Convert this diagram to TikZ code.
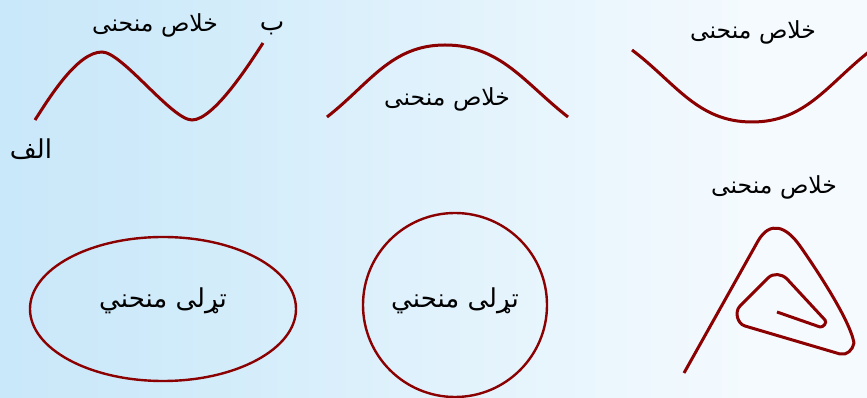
\documentclass[tikz,border=0pt]{standalone}
\usepackage{fontspec}
\newfontfamily\arabicfont[Script=Arabic]{DejaVu Sans}
\TeXXeTstate=1
\definecolor{curvered}{RGB}{139,0,0}
\definecolor{bgA}{RGB}{182,223,246}
\definecolor{bgB}{RGB}{208,235,250}
\definecolor{bgC}{RGB}{244,250,254}
\definecolor{bgD}{RGB}{250,252,255}
\pgfdeclarehorizontalshading{bgshade}{100bp}{color(0bp)=(bgA); color(35bp)=(bgB); color(68bp)=(bgC); color(100bp)=(bgD)}
\begin{document}
\begin{tikzpicture}[x=1pt,y=1pt,
  opencurve/.style={draw=curvered, line width=3pt},
  closedcurve/.style={draw=curvered, line width=2.4pt},
  smalllab/.style={font=\arabicfont\fontsize{23.5}{27}\selectfont, inner sep=0pt, text=black},
  biglab/.style={font=\arabicfont\fontsize{26}{30}\selectfont, inner sep=0pt, text=black}]
\useasboundingbox (0,0) rectangle (867,398);
\shade[shading=bgshade] (0,0) rectangle (867,398);
% wave
\draw[opencurve] (35,278) .. controls (48.6,299) and (77,346) .. (102,346)
  .. controls (122,346) and (172,278) .. (192,278)
  .. controls (214,278) and (251,336.5) .. (263,355);
\node[smalllab] (waveLab) at (155,373) {\beginR خلاص منحنی\endR};
\node[biglab] (labA) at (31,249) {\beginR الف\endR};
\node[biglab] (labB) at (272,370) {\beginR ب\endR};
% arch
\draw[opencurve] (327,281) to[out=38,in=180] (445,353) to[out=0,in=142] (568,281);
\node[smalllab] (archLab) at (447,299) {\beginR خلاص منحنی\endR};
% U
\draw[opencurve] (632,348) to[out=-37,in=180] (752,276) to[out=0,in=218] (870,347);
\node[smalllab] (uLab) at (753,366) {\beginR خلاص منحنی\endR};
% spiral
\node[smalllab] (spLab) at (774,211) {\beginR خلاص منحنی\endR};
\draw[opencurve, line join=round] (684,25) -- (758,157)
  .. controls (770,177.8) and (786.2,171.7) .. (800,152)
  .. controls (811.5,135.6) and (849.7,79.6) .. (854,55)
  to[out=-100,in=-15] (840,44) -- (745,72) to[out=164,in=-135] (740,92) -- (768,120) to[out=45,in=135] (787,119) -- (825,78) to[out=-47,in=-10] (820,71) -- (777,86);
% closed curves
\draw[closedcurve] (163,89) ellipse [x radius=133, y radius=72];
\node[biglab] (ellLab) at (163,97) {\beginR تړلی منحني\endR};
\draw[closedcurve] (455,93) circle [radius=92];
\node[biglab] (circLab) at (455,97) {\beginR تړلی منحني\endR};
\end{tikzpicture}
\end{document}
